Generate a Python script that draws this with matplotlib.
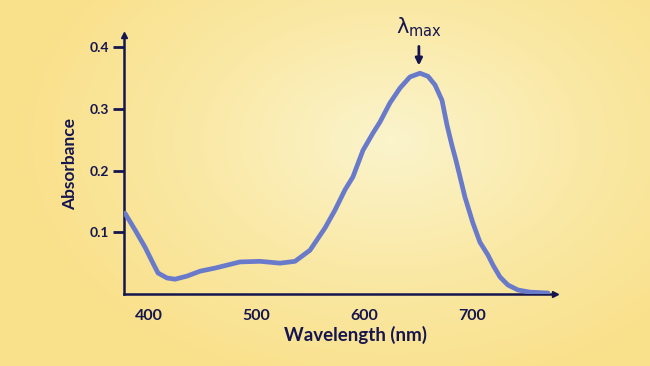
import numpy as np
import matplotlib
matplotlib.use("Agg")
import matplotlib.pyplot as plt
from matplotlib.colors import LinearSegmentedColormap

plt.rcParams["mathtext.fontset"] = "dejavusans"
plt.rcParams["mathtext.default"] = "regular"

# Data
wavelength = [377.7, 387.0, 396.3, 403.7, 408.4, 416.7, 424.1, 435.3, 447.4,
              461.3, 484.5, 503.1, 521.6, 535.6, 549.5, 563.4, 572.7, 582.0,
              589.4, 598.7, 608.0, 614.5, 623.8, 633.1, 642.3, 651.6, 659.1,
              665.6, 672.1, 676.7, 681.3, 685.0, 688.8, 693.4, 700.8, 707.3,
              714.8, 719.4, 725.9, 733.3, 742.6, 753.8, 770.5]
absorbance = [0.131, 0.104, 0.076, 0.050, 0.034, 0.026, 0.024, 0.029, 0.037,
              0.042, 0.052, 0.053, 0.050, 0.053, 0.071, 0.107, 0.136, 0.169,
              0.190, 0.233, 0.261, 0.279, 0.310, 0.334, 0.352, 0.358, 0.353,
              0.339, 0.314, 0.274, 0.241, 0.217, 0.190, 0.157, 0.115, 0.084,
              0.063, 0.047, 0.0276, 0.0146, 0.0065, 0.003, 0.0016]
x_ticks = [400, 500, 600, 700]
x_ticklabels = ["400", "500", "600", "700"]
y_ticks = [0.1, 0.2, 0.3, 0.4]
y_ticklabels = ["0.1", "0.2", "0.3", "0.4"]
peak_wl = 651.6
peak_abs = 0.358

navy = "#16164f"
line_c = "#6a7acb"
font = ["Lato", "DejaVu Sans"]

fig = plt.figure(figsize=(6.5, 3.66), dpi=100)

# radial gradient background
bg = fig.add_axes([0, 0, 1, 1], zorder=-10)
H, W = 366, 650
yy, xx = np.mgrid[0:H, 0:W]
cx, cy = 390, 140
r = np.sqrt(((xx - cx) / 380.0) ** 2 + ((yy - cy) / 260.0) ** 2)
r = np.clip(r, 0, 1)
cmap = LinearSegmentedColormap.from_list("bg", ["#fbf4cc", "#fae9a6", "#f9e08a"])
bg.imshow(r, cmap=cmap, aspect="auto", extent=[0, 1, 0, 1], vmin=0, vmax=1)
bg.axis("off")

ax = fig.add_axes([124 / 650, 72 / 366, 431 / 650, 259 / 366])
ax.set_facecolor("none")
ax.plot(wavelength, absorbance, color=line_c, lw=3.4, solid_capstyle="round",
        solid_joinstyle="round", zorder=3)
ax.set_xlim(376.8, 777)
ax.set_ylim(0, 0.42)

for s in ["top", "right"]:
    ax.spines[s].set_visible(False)
for s in ["left", "bottom"]:
    ax.spines[s].set_color(navy)
    ax.spines[s].set_linewidth(1.8)

ax.plot([1], [0], marker=">", color=navy, ms=4, transform=ax.transAxes, clip_on=False)
ax.plot([0], [1], marker="^", color=navy, ms=4, transform=ax.transAxes, clip_on=False)

ax.set_xticks(x_ticks)
ax.set_xticklabels(x_ticklabels, fontfamily=font, fontweight="bold", fontsize=11.5, color=navy)
ax.tick_params(axis="x", length=0, pad=11)
ax.set_yticks(y_ticks)
ax.set_yticklabels(y_ticklabels, fontfamily=font, fontweight="bold", fontsize=10, color=navy)
ax.tick_params(axis="y", length=8, width=2, color=navy, pad=3)

ax.set_xlabel("Wavelength (nm)", fontfamily=font, fontweight="bold", fontsize=13.5,
              color=navy)
ax.xaxis.set_label_coords(0.538, -0.122, transform=ax.transAxes)
ax.xaxis.label.set_va("top")
ax.set_ylabel("Absorbance", fontfamily=font, fontweight="bold", fontsize=12.5,
              color=navy, labelpad=8)

ax.annotate("", xy=(peak_wl - 1, peak_abs + 0.008), xytext=(peak_wl - 1, peak_abs + 0.048),
            arrowprops=dict(arrowstyle="-|>", color=navy, lw=2, mutation_scale=10),
            annotation_clip=False)
ax.text(peak_wl - 1, peak_abs + 0.055, r"$\lambda_{max}$", ha="center", va="bottom",
        fontsize=15, color=navy, clip_on=False)

fig.savefig("out.png", dpi=100)
